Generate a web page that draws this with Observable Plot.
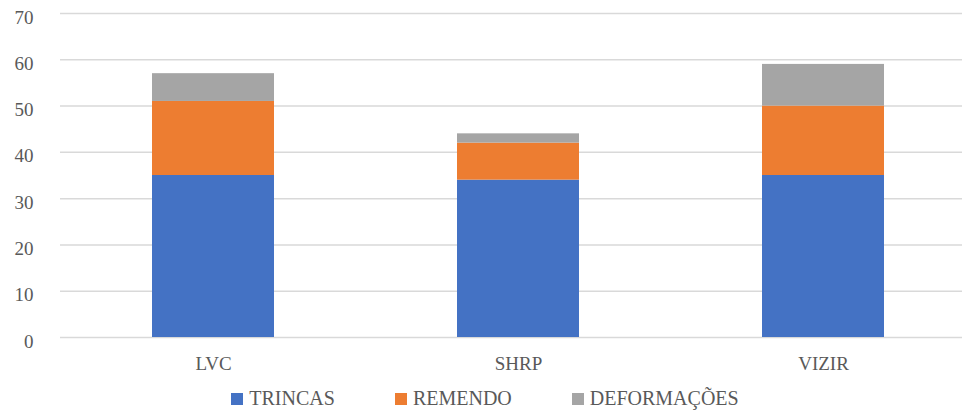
<!DOCTYPE html>
<html>
<head>
<meta charset="utf-8">
<script src="https://cdn.jsdelivr.net/npm/d3@7"></script>
<script src="https://cdn.jsdelivr.net/npm/@observablehq/plot@0.6"></script>
<style>
  html, body { margin: 0; padding: 0; background: #fff; }
  #chart { width: 962px; }
  .legend { display: flex; justify-content: center; gap: 60px; font-family: "Liberation Serif", "DejaVu Serif", serif; font-size: 20px; color: #595959; margin-top: 7px; padding-left: 8px; }
  .legend span.item { display: flex; align-items: center; }
  .legend span.sw { display: inline-block; width: 12px; height: 12px; margin-right: 6px; }
  svg text { font-family: "Liberation Serif", "DejaVu Serif", serif; }
</style>
</head>
<body>
<div id="chart"></div>
<script>
const categories = ["LVC", "SHRP", "VIZIR"];
const series = ["TRINCAS", "REMENDO", "DEFORMAÇÕES"];
const trincas = [35, 34, 35];
const remendo = [16, 8, 15];
const deformacoes = [6, 2, 9];
const yTicks = [0, 10, 20, 30, 40, 50, 60, 70];
const colors = ["#4472C4", "#ED7D31", "#A5A5A5"];

const valuesBySeries = [trincas, remendo, deformacoes];
const data = [];
series.forEach((s, i) => {
  categories.forEach((c, j) => data.push({cat: c, series: s, value: valuesBySeries[i][j]}));
});

const textColor = "#595959";
const font = "Liberation Serif, DejaVu Serif, serif";

const plot = Plot.plot({
  width: 962,
  height: 380,
  marginTop: 13,
  marginBottom: 43,
  marginLeft: 60,
  marginRight: 0,
  style: {fontFamily: font, fontSize: "19px", color: textColor, background: "#fff"},
  x: {domain: categories, range: [60, 975], paddingInner: 0.6, paddingOuter: 0.3, label: null},
  y: {domain: [0, 70], label: null},
  color: {domain: series, range: colors},
  marks: [
    Plot.ruleY(yTicks, {stroke: "#d9d9d9", strokeWidth: 1.5}),
    Plot.barY(data, Plot.stackY({x: "cat", y: "value", fill: "series", order: null})),
    Plot.axisY(yTicks, {tickSize: 0, tickPadding: 27, fill: textColor, fontSize: 19, dy: 4, label: null}),
    Plot.axisX({tickSize: 0, tickPadding: 19, fill: textColor, fontSize: 19, label: null})
  ]
});
document.getElementById("chart").appendChild(plot);

const legend = document.createElement("div");
legend.className = "legend";
series.forEach((s, i) => {
  const item = document.createElement("span");
  item.className = "item";
  const sw = document.createElement("span");
  sw.className = "sw";
  sw.style.background = colors[i];
  item.appendChild(sw);
  item.appendChild(document.createTextNode(s));
  legend.appendChild(item);
});
document.getElementById("chart").appendChild(legend);
</script>
</body>
</html>
